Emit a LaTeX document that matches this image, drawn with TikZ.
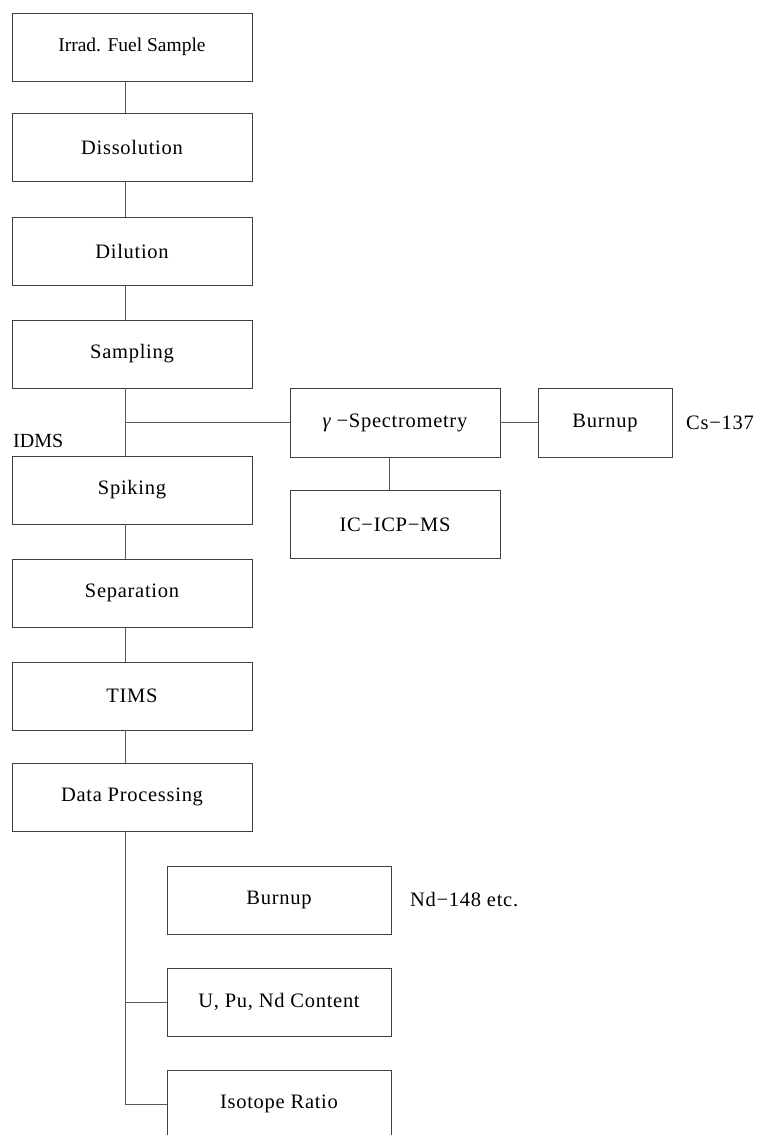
\documentclass[tikz,border=0pt]{standalone}
\usepackage{fontspec}
\setmainfont{Liberation Serif}
\newfontfamily\kfont[LetterSpace=3.5]{Liberation Serif}
\tikzset{
  box/.style={draw=black!75, line width=0.9pt, minimum height=68pt, inner sep=0pt, font=\kfont\fontsize{20.5}{24}\selectfont},
  mainbox/.style={box, minimum width=240pt},
  conn/.style={draw=black!65, line width=0.9pt},
  lbl/.style={inner sep=0pt, font=\kfont\fontsize{20.5}{24}\selectfont}
}
\begin{document}
\begin{tikzpicture}[x=1pt,y=-1pt]
\clip (0,0) rectangle (760,1135);
\fill[white] (0,0) rectangle (760,1135);
\coordinate (sx) at (125,0);
\coordinate (gx) at (389,0);
% main column
\node[mainbox, font=\rmfamily\fontsize{19.5}{22}\selectfont] (irr) at (132,47) {Irrad. Fuel Sample};
\node[mainbox] (dis) at (132,147) {Dissolution};
\node[mainbox] (dil) at (132,251) {Dilution};
\node[mainbox] (sam) at (132,354) {Sampling};
\node[mainbox] (spi) at (132,490) {Spiking};
\node[mainbox] (sep) at (132,593) {Separation};
\node[mainbox] (tim) at (132,696) {TIMS};
\node[mainbox] (dat) at (132,797) {Data Processing};
% right branch
\node[box, minimum width=210pt, minimum height=69pt] (gam) at (395,422.5) {{\itshape γ} −Spectrometry};
\node[box, minimum width=134pt, minimum height=69pt] (bu1) at (605,422.5) {Burnup};
\node[lbl, anchor=west] (cs) at (686,422.5) {Cs−137};
\node[box, minimum width=210pt] (icp) at (395,524.5) {IC−ICP−MS};
\node[anchor=south west, inner sep=0pt, font=\rmfamily\fontsize{20}{22}\selectfont] (idms) at (13,448) {IDMS};
% bottom branch
\node[box, minimum width=224pt] (bu2) at (279,900) {Burnup};
\node[lbl, anchor=west] (nd) at (410,900) {Nd−148 etc.};
\node[box, minimum width=224pt] (upn) at (279,1002) {U, Pu, Nd Content};
\node[box, minimum width=224pt] (iso) at (279,1104) {Isotope Ratio};
% connectors
\foreach \a/\b in {irr/dis, dis/dil, dil/sam, sam/spi, spi/sep, sep/tim, tim/dat}
  \draw[conn] (\a.south -| sx) -- (\b.north -| sx);
\coordinate (j1) at (sx |- gam.west);
\draw[conn] (j1) -- (gam.west);
\draw[conn] (gam.east) -- (bu1.west);
\draw[conn] (gam.south -| gx) -- (icp.north -| gx);
\draw[conn] (dat.south -| sx) -- (sx |- iso.west) -- (iso.west);
\draw[conn] (sx |- upn.west) -- (upn.west);
\end{tikzpicture}
\end{document}
